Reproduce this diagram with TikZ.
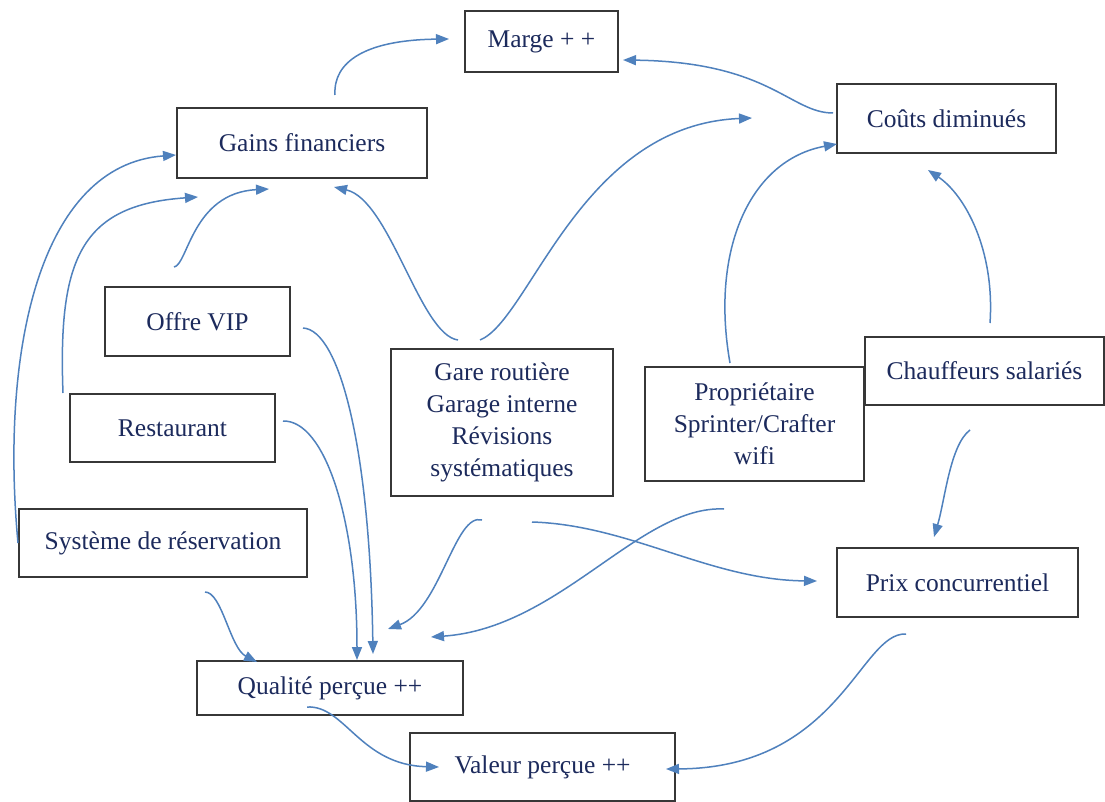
\documentclass[tikz,border=0pt]{standalone}
\usepackage{fontspec}
\setmainfont{Liberation Serif}
\usetikzlibrary{arrows.meta}
\definecolor{txt}{RGB}{28,42,92}
\definecolor{arr}{RGB}{79,129,189}
\definecolor{edge}{RGB}{55,55,55}
\begin{document}
\begin{tikzpicture}[x=1pt,y=-1pt,
  box/.style={draw=edge,line width=1.3pt,fill=white,inner sep=0pt,align=center,
    text=txt,font=\fontsize{25.5}{32}\selectfont},
  link/.style={draw=arr,line width=1.5pt,-{Triangle[length=13pt,width=10pt]}}]
\useasboundingbox[fill=white] (0,0) rectangle (1105,802);
% boxes
\node[box,minimum width=153pt,minimum height=61pt] (marge) at (541.5,41.5) {Marge + +};
\node[box,minimum width=250pt,minimum height=70pt] (gains) at (302,143) {Gains financiers};
\node[box,minimum width=219pt,minimum height=69pt] (couts) at (946.5,118.5) {Coûts diminués};
\node[box,minimum width=185pt,minimum height=69pt] (vip) at (197.5,321.5) {Offre VIP};
\node[box,minimum width=205pt,minimum height=68pt] (resto) at (172.5,428) {Restaurant};
\node[box,minimum width=288pt,minimum height=68pt] (sys) at (163,543) {Système de réservation};
\node[box,minimum width=222pt,minimum height=147pt] (gare) at (502,422.5) {Gare routière\\Garage interne\\Révisions\\systématiques};
\node[box,minimum width=219pt,minimum height=114pt] (prop) at (754.5,424) {Propriétaire\\Sprinter/Crafter\\wifi};
\node[box,minimum width=239pt,minimum height=68pt] (chauf) at (984.5,371) {Chauffeurs salariés};
\node[box,minimum width=241pt,minimum height=69pt] (prix) at (957.5,582.5) {Prix concurrentiel};
\node[box,minimum width=266pt,minimum height=54pt] (qual) at (330,688) {Qualité perçue ++};
\node[box,minimum width=265pt,minimum height=68pt] (val) at (542.5,767) {Valeur perçue ++};
% free ends of connectors
\coordinate (gainsOut) at (335,95);   \coordinate (margeInL) at (449,39);
\coordinate (coutsOut) at (833,113);  \coordinate (margeInR) at (623,60);
\coordinate (gareOutC) at (480,340);  \coordinate (coutsInG) at (752,118);
\coordinate (gareOutG) at (458,340);  \coordinate (gainsInG) at (334,187);
\coordinate (vipOutG) at (174,267);   \coordinate (gainsInV) at (269,189);
\coordinate (restoOutG) at (63,393);  \coordinate (gainsInR) at (198,197);
\coordinate (sysOutG) at (18,543);    \coordinate (gainsInS) at (176,155);
\coordinate (propOutC) at (730,363);  \coordinate (coutsInP) at (837,144);
\coordinate (chaufOutC) at (990,323); \coordinate (coutsInC) at (928,170);
\coordinate (chaufOutP) at (970,430); \coordinate (prixInC) at (934,537);
\coordinate (vipOutQ) at (303,328);   \coordinate (qualInV) at (373,654);
\coordinate (restoOutQ) at (283,421); \coordinate (qualInR) at (357,660);
\coordinate (sysOutQ) at (205,592);   \coordinate (qualInS) at (257,662);
\coordinate (gareOutQ) at (482,520);  \coordinate (qualInG) at (388,629);
\coordinate (propOutQ) at (724,509);  \coordinate (qualInP) at (431,637);
\coordinate (gareOutP) at (532,522);  \coordinate (prixInG) at (817,581);
\coordinate (qualOutV) at (307,707);  \coordinate (valInQ) at (439,767);
\coordinate (prixOutV) at (906,634);  \coordinate (valInP) at (666,769);
% connectors
\draw[link] (gainsOut) .. controls (333,62) and (365,40) .. (margeInL);
\draw[link] (coutsOut) .. controls (790,113) and (770,62) .. (margeInR);
\draw[link] (gareOutC) .. controls (530,320) and (580,125) .. (coutsInG);
\draw[link] (gareOutG) .. controls (420,335) and (390,200) .. (gainsInG);
\draw[link] (vipOutG) .. controls (188,265) and (192,193) .. (gainsInV);
\draw[link] (restoOutG) .. controls (58,260) and (80,205) .. (gainsInR);
\draw[link] (sysOutG) .. controls (0,350) and (40,165) .. (gainsInS);
\draw[link] (propOutC) .. controls (710,250) and (750,160) .. (coutsInP);
\draw[link] (chaufOutC) .. controls (995,250) and (965,195) .. (coutsInC);
\draw[link] (chaufOutP) .. controls (950,445) and (945,500) .. (prixInC);
\draw[link] (vipOutQ) .. controls (340,330) and (370,450) .. (qualInV);
\draw[link] (restoOutQ) .. controls (325,420) and (357,520) .. (qualInR);
\draw[link] (sysOutQ) .. controls (222,592) and (230,648) .. (qualInS);
\draw[link] (gareOutQ) .. controls (455,512) and (440,610) .. (qualInG);
\draw[link] (propOutQ) .. controls (640,505) and (560,628) .. (qualInP);
\draw[link] (gareOutP) .. controls (630,525) and (710,580) .. (prixInG);
\draw[link] (qualOutV) .. controls (345,705) and (360,765) .. (valInQ);
\draw[link] (prixOutV) .. controls (860,632) and (840,768) .. (valInP);
\end{tikzpicture}
\end{document}
